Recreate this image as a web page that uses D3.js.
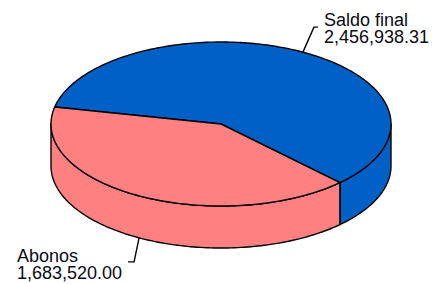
<!DOCTYPE html>
<html>
<head>
<meta charset="utf-8">
<script src="https://cdn.jsdelivr.net/npm/d3@7"></script>
<style>
  html, body { margin: 0; padding: 0; background: #fff; }
  svg { display: block; }
</style>
</head>
<body>
<div id="chart"></div>
<script>
'use strict'

// chart data
var categories = ["Saldo final", "Abonos"];
var values = [2456938.31, 1683520.00];
var colors = ["#0060C6", "#FF8080"];

var width = 432, height = 284;
var cx = 221, cy = 124, rx = 170, ry = 82, depth = 42;
var startDeg = 282;

var fmt = d3.format(",.2f");

var svg = d3.select("#chart")
    .append("svg")
    .attr("width", width)
    .attr("height", height);

var pie = d3.pie()
    .sort(null)
    .startAngle(startDeg * Math.PI / 180)
    .endAngle(startDeg * Math.PI / 180 + 2 * Math.PI);

var slices = pie(values);

// d3 angle (clockwise from 12 o'clock) -> point on the ellipse
function pt(a, dy){
    return [cx + rx * Math.sin(a), cy - ry * Math.cos(a) + (dy || 0)];
}

function arcPoints(a0, a1, dy){
    var n = Math.max(2, Math.ceil(Math.abs(a1 - a0) / 0.02));
    var pts = [];
    for (var i = 0; i <= n; i++) {
        pts.push(pt(a0 + (a1 - a0) * i / n, dy));
    }
    return pts;
}

var line = d3.line();

// visible front wall: angles between 90 and 270 degrees (mod 360)
var walls = [];
slices.forEach(function(s, i){
    [0, 1].forEach(function(k){
        var lo = Math.PI / 2 + k * 2 * Math.PI, hi = 3 * Math.PI / 2 + k * 2 * Math.PI;
        var a0 = Math.max(s.startAngle, lo), a1 = Math.min(s.endAngle, hi);
        if (a1 > a0) walls.push({a0: a0, a1: a1, i: i});
    });
});

svg.append("g")
    .selectAll("path")
    .data(walls)
    .enter()
    .append("path")
    .attr("d", function(w){
        var top = arcPoints(w.a0, w.a1, 0);
        var bot = arcPoints(w.a1, w.a0, depth);
        return line(top.concat(bot)) + "Z";
    })
    .attr("fill", function(w){ return colors[w.i]; })
    .attr("stroke", "#000")
    .attr("stroke-width", 1.4)
    .attr("stroke-linejoin", "round");

// top faces
svg.append("g")
    .selectAll("path")
    .data(slices)
    .enter()
    .append("path")
    .attr("d", function(s){
        var pts = [[cx, cy]].concat(arcPoints(s.startAngle, s.endAngle, 0));
        return line(pts) + "Z";
    })
    .attr("fill", function(s, i){ return colors[i]; })
    .attr("stroke", "#000")
    .attr("stroke-width", 1.4)
    .attr("stroke-linejoin", "round");

// labels with leader lines
var fontSize = 18, lineH = 17;
var labels = svg.append("g");

slices.forEach(function(s, i){
    var mid = (s.startAngle + s.endAngle) / 2;
    var up = Math.cos(mid) > 0;
    var right = Math.sin(mid) > 0;
    var p0 = pt(mid, up ? 0 : depth);
    var p1 = [p0[0] + (right ? 11 : -5), p0[1] + (up ? -25 : 24)];
    var p2 = [p1[0] + (right ? 4 : -6), p1[1]];

    labels.append("path")
        .attr("d", line([p0, p1, p2]))
        .attr("fill", "none")
        .attr("stroke", "#000")
        .attr("stroke-width", 1.4);

    var t = labels.append("text")
        .attr("font-family", "'Liberation Sans', Arial, sans-serif")
        .attr("font-size", fontSize + "px")
        .attr("fill", "#0a0a14");
    t.append("tspan").attr("x", 0).attr("y", 0).text(categories[i]);
    t.append("tspan").attr("x", 0).attr("y", lineH).text(fmt(values[i]));

    var w = 0;
    t.selectAll("tspan").each(function(){ w = Math.max(w, this.getComputedTextLength()); });
    var tx = right ? p2[0] + 6 : p2[0] - 6 - w;
    var ty = up ? p2[1] - 1 : p2[1];
    t.attr("transform", "translate(" + tx + "," + ty + ")");
});
</script>
</body>
</html>
